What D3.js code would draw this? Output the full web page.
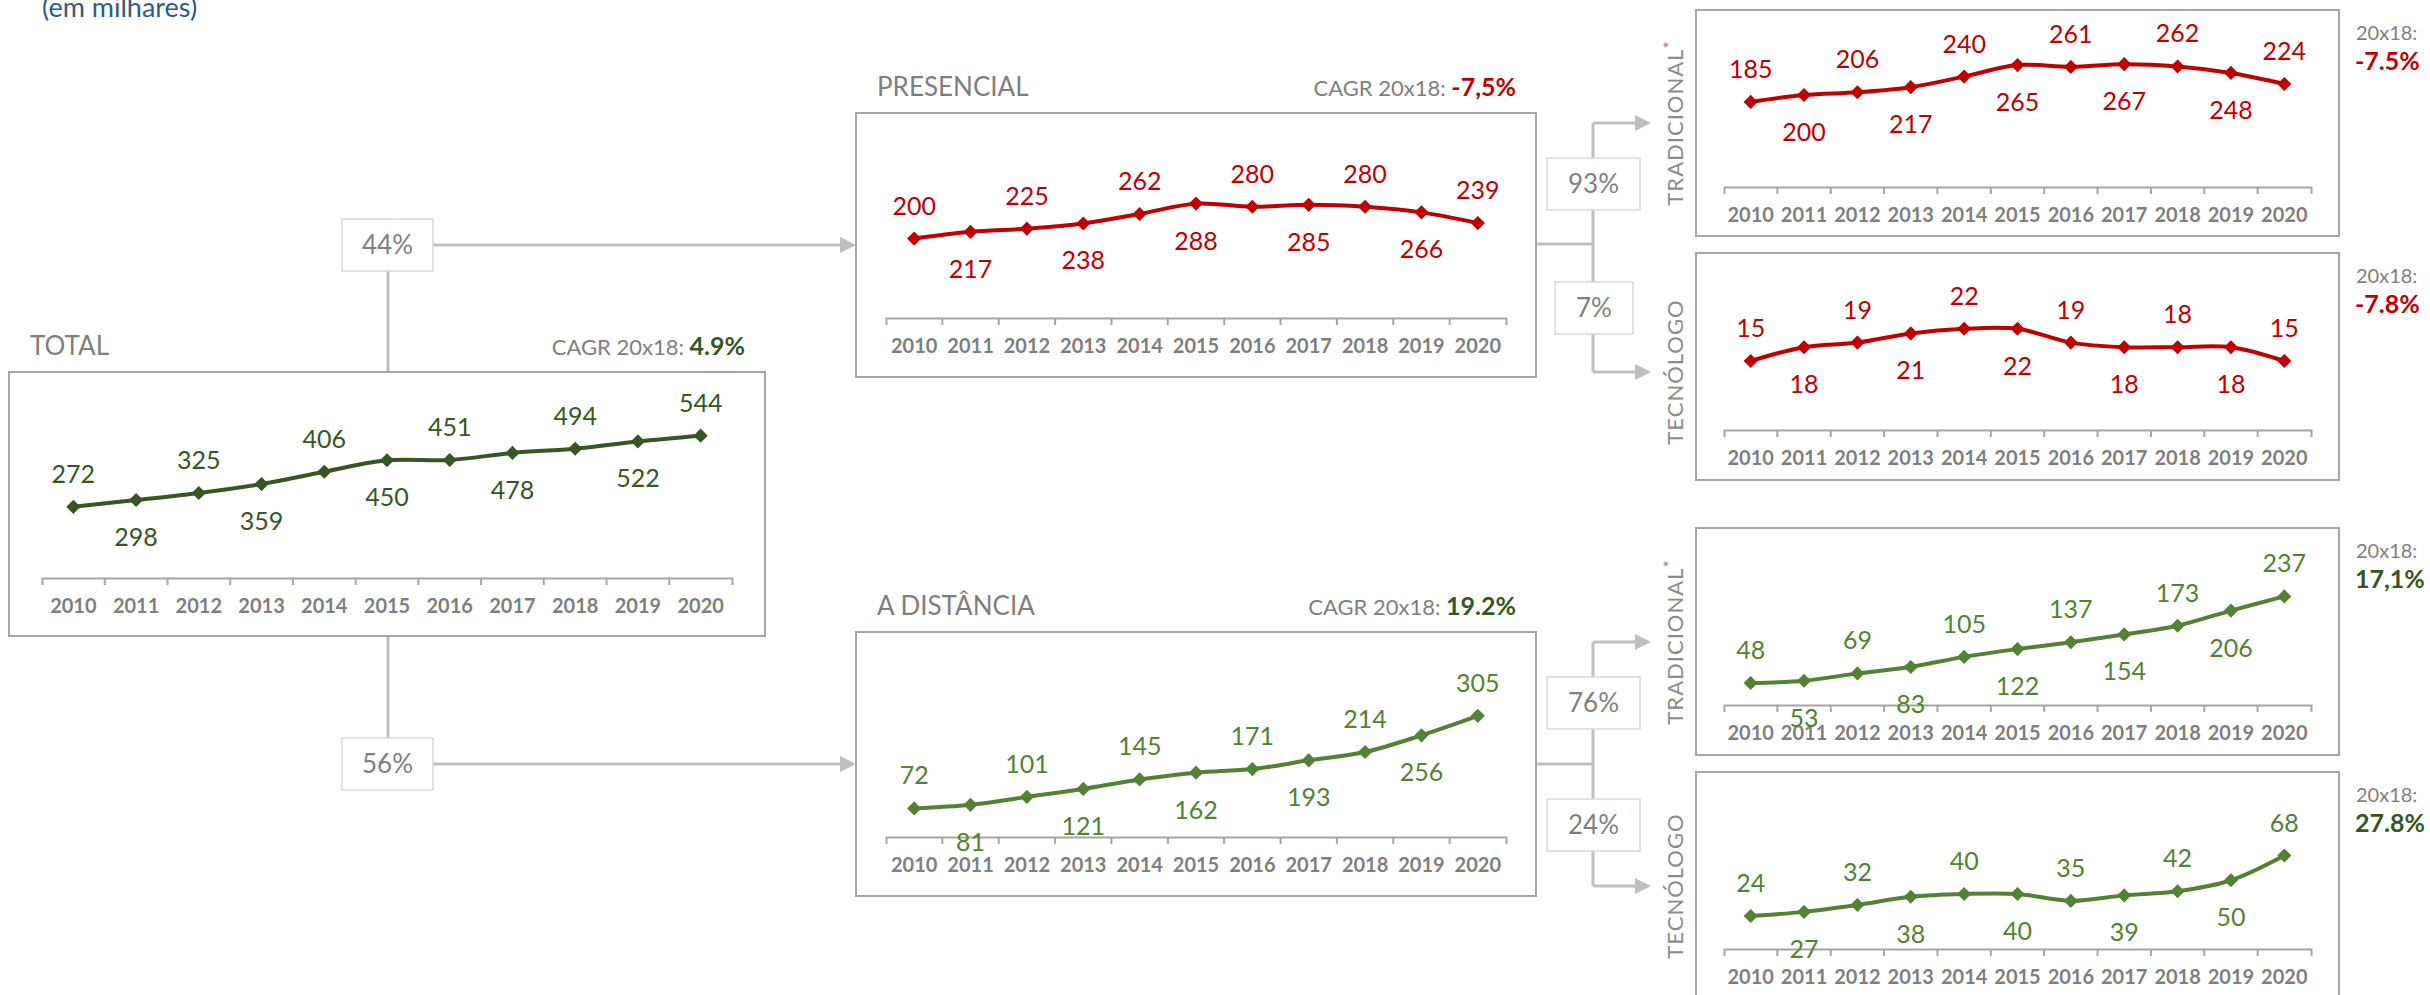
<!DOCTYPE html>
<html>
<head>
<meta charset="utf-8">
<script src="https://cdn.jsdelivr.net/npm/d3@7"></script>
<style>
  body { margin: 0; background: #fff; }
  svg { font-family: Lato, "Open Sans", sans-serif; }
</style>
</head>
<body>
<div id="chart"></div>
<script>
var years = ["2010", "2011", "2012", "2013", "2014", "2015", "2016", "2017", "2018", "2019", "2020"];

var total        = [272, 298, 325, 359, 406, 450, 451, 478, 494, 522, 544];
var presencial   = [200, 217, 225, 238, 262, 288, 280, 285, 280, 266, 239];
var distancia    = [72, 81, 101, 121, 145, 162, 171, 193, 214, 256, 305];
var presTrad     = [185, 200, 206, 217, 240, 265, 261, 267, 262, 248, 224];
var presTec      = [15, 18, 19, 21, 22, 22, 19, 18, 18, 18, 15];
var distTrad     = [48, 53, 69, 83, 105, 122, 137, 154, 173, 206, 237];
var distTec      = [24, 27, 32, 38, 40, 40, 35, 39, 42, 50, 68];

var titles = ["TOTAL", "PRESENCIAL", "A DISTÂNCIA"];
var cagrValues = ["4.9%", "-7,5%", "19.2%", "-7.5%", "-7.8%", "17,1%", "27.8%"];
var shares = ["44%", "56%", "93%", "7%", "76%", "24%"];

var RED = "#c00000", DKGREEN = "#375623", GREEN = "#548235";
var GRAY = "#7f7f7f", CONN = "#bfbfbf", BORDER = "#a6a6a6";

var svg = d3.select("#chart").append("svg")
    .attr("width", 2430)
    .attr("height", 995);

svg.append("text")
    .attr("x", 42).attr("y", 17)
    .style("font-size", "27px")
    .style("fill", "#2f5a8a")
    .text("(em milhares)");

// layout of each panel: box, axis inset, where zero sits, scale max
var charts = [
    { data: total,      x: 9,    y: 372, w: 756, h: 264, inset: 33, axisOff: 206, yMax: 600, plotH: 157,   color: DKGREEN, title: titles[0], cagr: cagrValues[0], cagrColor: DKGREEN, big: true },
    { data: presencial, x: 856,  y: 113, w: 680, h: 264, inset: 30, axisOff: 205, yMax: 350, plotH: 139,   color: RED,     title: titles[1], cagr: cagrValues[1], cagrColor: RED,     big: true },
    { data: distancia,  x: 856,  y: 632, w: 680, h: 264, inset: 30, axisOff: 205, yMax: 350, plotH: 139,   color: GREEN,   title: titles[2], cagr: cagrValues[2], cagrColor: DKGREEN, big: true },
    { data: presTrad,   x: 1696, y: 10,  w: 643, h: 226, inset: 28, axisOff: 177, yMax: 300, plotH: 138,   color: RED,     cagr: cagrValues[3], cagrColor: RED },
    { data: presTec,    x: 1696, y: 253, w: 643, h: 227, inset: 28, axisOff: 177, yMax: 30,  plotH: 138,   color: RED,     cagr: cagrValues[4], cagrColor: RED },
    { data: distTrad,   x: 1696, y: 528, w: 643, h: 227, inset: 28, axisOff: 177, yMax: 300, plotH: 137.5, color: GREEN,   cagr: cagrValues[5], cagrColor: DKGREEN },
    { data: distTec,    x: 1696, y: 772, w: 643, h: 230, inset: 28, axisOff: 177, yMax: 100, plotH: 137.5, color: GREEN,   cagr: cagrValues[6], cagrColor: DKGREEN }
];

var diamond = d3.symbol().type(d3.symbolSquare).size(100);

function drawChart(c) {
    var g = svg.append("g");
    var axisY = c.y + c.axisOff;

    g.append("rect")
        .attr("x", c.x).attr("y", c.y)
        .attr("width", c.w).attr("height", c.h)
        .attr("fill", "#fff")
        .attr("stroke", BORDER)
        .attr("stroke-width", 2);

    var x = d3.scaleBand().domain(years).range([c.x + c.inset, c.x + c.w - c.inset]);
    var y = d3.scaleLinear().domain([0, c.yMax]).range([axisY, axisY - c.plotH]);
    var cx = function (i) { return x(years[i]) + x.bandwidth() / 2; };

    var ax = g.append("g")
        .attr("transform", "translate(0," + axisY + ")")
        .call(d3.axisBottom(x).tickSizeInner(0).tickSizeOuter(7));
    ax.select(".domain").attr("stroke", BORDER).attr("stroke-width", 2);
    ax.selectAll(".tick line").remove();
    ax.selectAll(".tick text")
        .attr("y", 35).attr("dy", null)
        .style("font-family", "Lato, sans-serif")
        .style("font-size", "20px")
        .style("font-weight", "bold")
        .style("fill", GRAY);
    // boundary ticks between categories
    ax.selectAll(".sep")
        .data(years.slice(1))
        .enter().append("line")
        .attr("class", "sep")
        .attr("x1", function (d) { return x(d); })
        .attr("x2", function (d) { return x(d); })
        .attr("y1", 0).attr("y2", 7)
        .attr("stroke", BORDER).attr("stroke-width", 2);

    var line = d3.line()
        .x(function (d, i) { return cx(i); })
        .y(function (d) { return y(d); })
        .curve(d3.curveCatmullRom.alpha(0.5));

    g.append("path")
        .datum(c.data)
        .attr("fill", "none")
        .attr("stroke", c.color)
        .attr("stroke-width", 4)
        .attr("d", line);

    g.selectAll(".pt")
        .data(c.data)
        .enter().append("path")
        .attr("class", "pt")
        .attr("d", diamond)
        .attr("fill", c.color)
        .attr("transform", function (d, i) {
            return "translate(" + cx(i) + "," + y(d) + ") rotate(45)";
        });

    g.selectAll(".lbl")
        .data(c.data)
        .enter().append("text")
        .attr("class", "lbl")
        .attr("x", function (d, i) { return cx(i); })
        .attr("y", function (d, i) { return i % 2 === 0 ? y(d) - 24 : y(d) + 46; })
        .attr("text-anchor", "middle")
        .style("font-size", "25px")
        .style("fill", c.color)
        .text(function (d) { return d; });

    if (c.big) {
        svg.append("text")
            .attr("x", c.x + 21).attr("y", c.y - 17)
            .style("font-size", "26px")
            .style("fill", GRAY)
            .text(c.title);
        var t = svg.append("text")
            .attr("x", c.x + c.w - 20).attr("y", c.y - 17)
            .attr("text-anchor", "end");
        t.append("tspan").style("font-size", "22px").style("fill", GRAY).text("CAGR 20x18: ");
        t.append("tspan").style("font-size", "25px").style("font-weight", "bold")
            .style("fill", c.cagrColor).text(c.cagr);
    } else {
        svg.append("text")
            .attr("x", c.x + c.w + 17).attr("y", c.y + 30)
            .style("font-size", "20px").style("fill", GRAY)
            .text("20x18:");
        svg.append("text")
            .attr("x", c.x + c.w + 16).attr("y", c.y + 60)
            .style("font-size", "25px").style("font-weight", "bold")
            .style("fill", c.cagrColor)
            .text(c.cagr);
    }
}

// connectors first so the boxes sit on top
function conn(pts) {
    svg.append("path")
        .attr("d", d3.line()(pts))
        .attr("fill", "none")
        .attr("stroke", CONN)
        .attr("stroke-width", 3);
}
function arrow(x1, x2, yy) {
    conn([[x1, yy], [x2 - 15, yy]]);
    svg.append("path")
        .attr("d", "M" + x2 + "," + yy + "L" + (x2 - 16) + "," + (yy - 8) + "L" + (x2 - 16) + "," + (yy + 8) + "Z")
        .attr("fill", CONN);
}
function shareBox(x0, y0, w, txt) {
    svg.append("rect")
        .attr("x", x0).attr("y", y0)
        .attr("width", w).attr("height", 52)
        .attr("fill", "#fff")
        .attr("stroke", "#d9d9d9")
        .attr("stroke-width", 1.5);
    svg.append("text")
        .attr("x", x0 + w / 2).attr("y", y0 + 35)
        .attr("text-anchor", "middle")
        .style("font-size", "26px")
        .style("fill", GRAY)
        .text(txt);
}

conn([[388, 372], [388, 245]]);
arrow(433, 856, 245);
conn([[388, 636], [388, 764]]);
arrow(433, 856, 764);

conn([[1536, 244], [1593, 244]]);
conn([[1593, 123], [1593, 372]]);
arrow(1593, 1651, 123);
arrow(1593, 1651, 372);

conn([[1536, 764], [1593, 764]]);
conn([[1593, 642], [1593, 886]]);
arrow(1593, 1651, 642);
arrow(1593, 1651, 886);

charts.forEach(drawChart);

shareBox(342, 219, 91, shares[0]);
shareBox(342, 738, 91, shares[1]);
shareBox(1547, 158, 93, shares[2]);
shareBox(1555, 282, 78, shares[3]);
shareBox(1547, 677, 93, shares[4]);
shareBox(1547, 799, 93, shares[5]);

// rotated side labels
var sideLabels = [
    { cy: 123, txt: "TRADICIONAL", star: true },
    { cy: 372, txt: "TECNÓLOGO", star: false },
    { cy: 642, txt: "TRADICIONAL", star: true },
    { cy: 886, txt: "TECNÓLOGO", star: false }
];
sideLabels.forEach(function (s) {
    var t = svg.append("text")
        .attr("transform", "translate(1683," + s.cy + ") rotate(-90)")
        .attr("text-anchor", "middle")
        .style("font-size", "22px")
        .style("letter-spacing", "1px")
        .style("fill", "#8c8c8c");
    t.append("tspan").text(s.txt);
    if (s.star) {
        t.append("tspan").attr("dy", -7).style("font-size", "17px").text("*");
    }
});
</script>
</body>
</html>
